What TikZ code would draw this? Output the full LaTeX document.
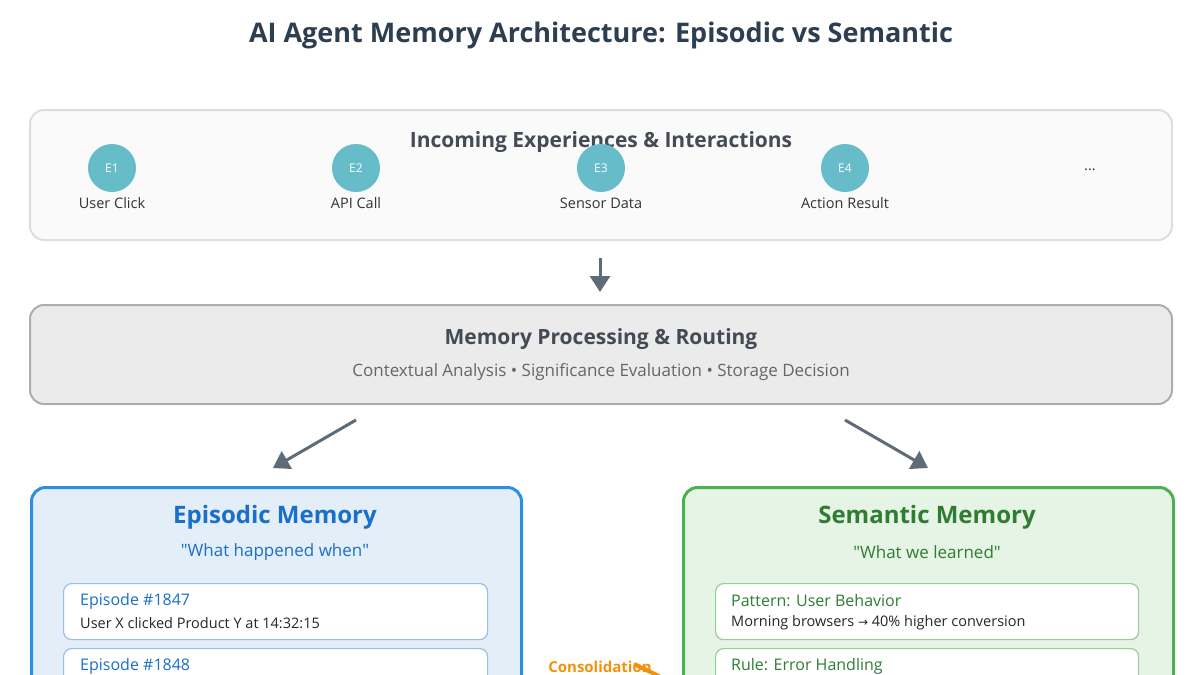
\documentclass[tikz,border=0pt]{standalone}
\usepackage{fontspec}
\setmainfont{Open Sans}
\newfontfamily\nolig{Open Sans}[Ligatures=TeXOff]
\newfontfamily\symf{DejaVu Sans}
\usetikzlibrary{arrows.meta}
\definecolor{ttl}{HTML}{2C3E50}
\definecolor{dk}{HTML}{444B54}
\definecolor{teal}{HTML}{66BCC9}
\definecolor{epi}{HTML}{1A6FC9}
\definecolor{epb}{HTML}{2B8FE6}
\definecolor{sem}{HTML}{2E7D32}
\definecolor{smb}{HTML}{4CAF50}
\definecolor{org}{HTML}{F5900A}
\definecolor{arr}{HTML}{5F6B76}
\tikzset{
 every node/.style={inner sep=0pt},
 panel/.style={draw, line width=2pt, rounded corners=14pt},
 card/.style={draw, line width=1.2pt, fill=white, rounded corners=8pt},
 ev/.style={circle, fill=teal, minimum size=48pt, text=white, font=\fontsize{12}{14}\selectfont},
 evl/.style={font=\fontsize{14.5}{18}\selectfont, text=black!80},
 flow/.style={draw=arr, line width=3pt, -{Triangle[length=16pt,width=20pt]}},
 ctit/.style={anchor=west, font=\fontsize{16}{19}\selectfont},
 ctxt/.style={anchor=west, font=\fontsize{14.5}{17}\selectfont, text=black!85},
}
\newcommand{\qq}{{\nolig"}}
\begin{document}
\begin{tikzpicture}[x=1pt,y=-1pt]
\useasboundingbox (0,0) rectangle (1200,675);
\begin{scope}
\clip (0,0) rectangle (1200,675);
\node (title) at (601,35) {\fontsize{27}{32}\selectfont\bfseries\color{ttl}AI Agent Memory Architecture: Episodic vs Semantic};

\node[panel, draw=black!13, fill=black!2, minimum width=1142pt, minimum height=130pt] (inc) at (601,175) {};
\node (inct) at (601,142) {\fontsize{21}{26}\selectfont\bfseries\color{dk}Incoming Experiences \& Interactions};
\node[ev] (e1) at (112,168) {E1};
\node[ev] (e2) at (356,168) {E2};
\node[ev] (e3) at (601,168) {E3};
\node[ev] (e4) at (845,168) {E4};
\node[evl] (l1) at (112,203) {User Click};
\node[evl] (l2) at (356,203) {API Call};
\node[evl] (l3) at (601,203) {Sensor Data};
\node[evl] (l4) at (845,203) {Action Result};
\node[evl] (dots) at (1090,170) {...};

\node[panel, draw=black!32, fill=black!8, minimum width=1142pt, minimum height=99pt] (proc) at (601,354.5) {};
\node (proct) at (601,339) {\fontsize{21}{26}\selectfont\bfseries\color{dk}Memory Processing \& Routing};
\node (procs) at (601,372) {\fontsize{17}{20}\selectfont\color{black!60}Contextual Analysis • Significance Evaluation • Storage Decision};

\coordinate (a0) at (600,258);
\coordinate (a1) at (600,292);
\draw[flow] (a0) -- (a1);
\coordinate (b0) at (356,420); \coordinate (b1) at (273,468);
\coordinate (c0) at (845,420); \coordinate (c1) at (928,468);
\draw[flow] (b0) -- (b1);
\draw[flow] (c0) -- (c1);

\node[panel, line width=3pt, draw=epb, fill=epi!12, minimum width=490pt, minimum height=260pt, anchor=north west] (epm) at (30,486) {};
\node (ept) at (275,517) {\fontsize{24}{30}\selectfont\bfseries\color{epi}Episodic Memory};
\node (eps) at (275,552) {\fontsize{17}{20}\selectfont\color{epi}\qq What happened when\qq};
\node[card, draw=epi!45, minimum width=424pt, minimum height=56pt, anchor=north west] (ep1) at (63,583) {};
\node[ctit, text=epi] (ep1t) at (80,601) {Episode \#1847};
\node[ctxt] (ep1x) at (80,623) {User X clicked Product Y at 14:32:15};
\node[card, draw=epi!45, minimum width=424pt, minimum height=56pt, anchor=north west] (ep2) at (63,648) {};
\node[ctit, text=epi] (ep2t) at (80,666) {Episode \#1848};

\node[panel, line width=3pt, draw=smb, fill=smb!14, minimum width=490pt, minimum height=260pt, anchor=north west] (smm) at (682,486) {};
\node (smt) at (927,517) {\fontsize{24}{30}\selectfont\bfseries\color{sem}Semantic Memory};
\node (sms) at (927,552) {\fontsize{17}{20}\selectfont\color{sem}\qq What we learned\qq};
\node[card, draw=smb!60, minimum width=423pt, minimum height=56pt, anchor=north west] (sm1) at (715,583) {};
\node[ctit, text=sem] (sm1t) at (731,601) {Pattern: User Behavior};
\node[ctxt] (sm1x) at (731,623) {Morning browsers {\symf\fontsize{12}{14}\selectfont →} 40\% higher conversion};
\node[card, draw=smb!60, minimum width=423pt, minimum height=56pt, anchor=north west] (sm2) at (715,648) {};
\node[ctit, text=sem] (sm2t) at (731,666) {Rule: Error Handling};

\node (cons) at (600,667) {\fontsize{15}{17}\selectfont\bfseries\color{org}Consolidation};
\coordinate (k0) at (634,664);
\coordinate (k1) at (700,696);
\draw[org, line width=4pt, -{Triangle[length=18pt,width=20pt]}] (k0) -- (k1);
\end{scope}
\end{tikzpicture}
\end{document}
